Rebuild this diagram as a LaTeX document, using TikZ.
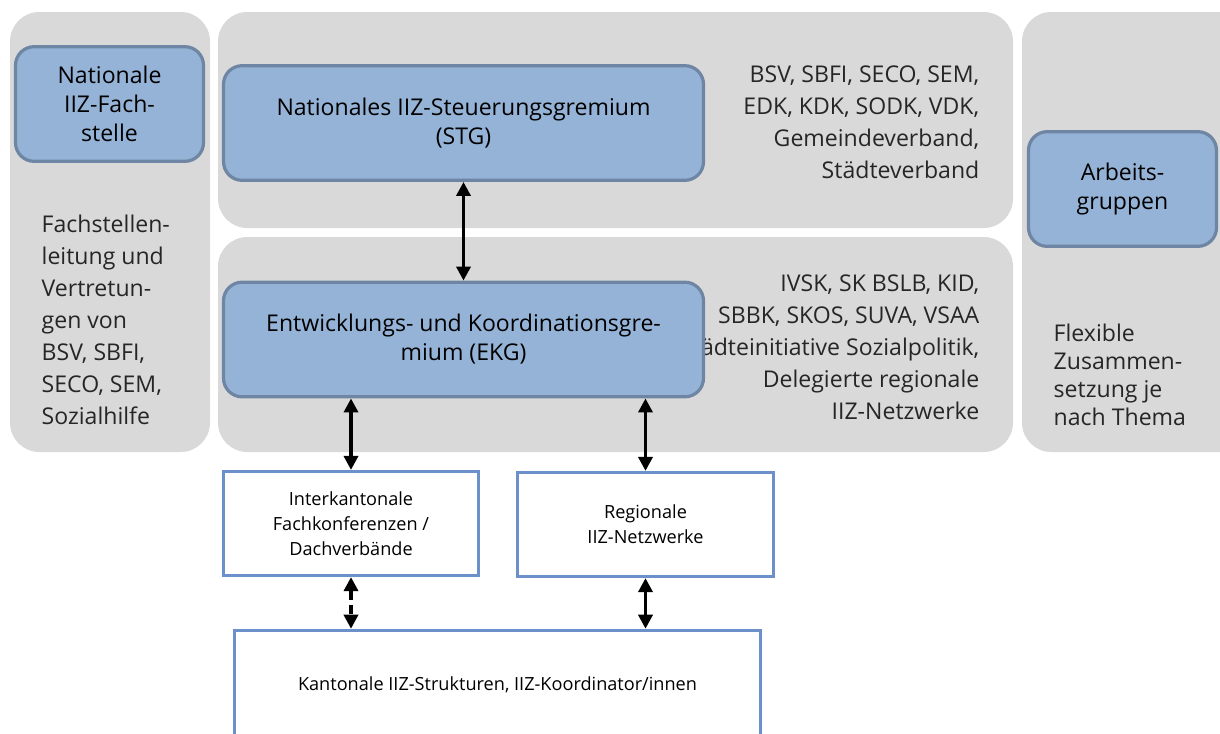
\documentclass[tikz,border=0pt]{standalone}
\usepackage{fontspec}
\setmainfont{Open Sans}
\usetikzlibrary{arrows.meta}
\definecolor{panelgray}{RGB}{217,217,217}
\definecolor{iizblue}{RGB}{149,179,215}
\definecolor{iizedge}{RGB}{110,134,163}
\definecolor{boxedge}{RGB}{108,145,202}
\definecolor{infotext}{RGB}{38,38,38}
\begin{document}
\begin{tikzpicture}
                \tikzset{x=0.75pt, y=-0.75pt}
                \tikzstyle{panel}=[fill=panelgray, draw=none, rounded corners=22pt]
                \tikzstyle{gremium}=[rectangle, draw=iizedge, fill=iizblue, line width=2.4pt, rounded corners=14pt,
                        align=center, font=\fontsize{17.3}{21.75}\selectfont]
                \tikzstyle{ebene}=[rectangle, draw=boxedge, fill=white, line width=2.4pt,
                        align=center, font=\fontsize{13.6}{18.75}\selectfont]
                \tikzstyle{info}=[text=infotext, font=\fontsize{17.3}{24}\selectfont]
                \tikzstyle{link}=[line width=2.6pt, {Triangle[length=10.5pt,width=10.5pt]}-{Triangle[length=10.5pt,width=10.5pt]}]

                \useasboundingbox (0,0) rectangle (1220,733);
                \clip (0,0) rectangle (1220,733);

                \draw[panel] (10,12)   rectangle (210,452);
                \draw[panel] (218,12)  rectangle (1013,228);
                \draw[panel] (218,237) rectangle (1013,452);
                \draw[panel] (1022,12) rectangle (1250,452);

                \draw (37,320)      node[info, anchor=west, align=left]    (infoFS)  {Fachstellen-\\leitung und\\Vertretun-\\gen von\\BSV, SBFI,\\SECO, SEM,\\Sozialhilfe};
                \draw (984,122.5)   node[info, anchor=east, align=right]   (infoSTG) {BSV, SBFI, SECO, SEM,\\EDK, KDK, SODK, VDK,\\Gemeindeverband,\\Städteverband};
                \draw (984,347.5)   node[info, anchor=east, align=right]   (infoEKG) {IVSK, SK BSLB, KID,\\SBBK, SKOS, SUVA, VSAA\\Städteinitiative Sozialpolitik,\\Delegierte regionale\\IIZ-Netzwerke};
                \draw (1049,374.5)  node[info, anchor=west, align=left, font=\fontsize{17.3}{21}\selectfont] (infoAG) {Flexible\\Zusammen-\\setzung je\\nach Thema};

                \draw (109.5,104)   node[gremium, minimum width=141pt, minimum height=86pt] (fs)  {Nationale\\IIZ-Fach-\\stelle};
                \draw (463.5,123)   node[gremium, minimum width=360pt, minimum height=86pt] (stg) {Nationales IIZ-Steuerungsgremium\\(STG)};
                \draw (463.5,339.5) node[gremium, minimum width=360pt, minimum height=86pt] (ekg) {Entwicklungs- und Koordinationsgre-\\mium (EKG)};
                \draw (1122.5,189)  node[gremium, minimum width=141pt, minimum height=86pt] (ag)  {Arbeits-\\gruppen};

                \draw (351,523.5)   node[ebene, minimum width=191pt, minimum height=78pt]   (inter) {Interkantonale\\Fachkonferenzen /\\Dachverbände};
                \draw (645.5,524.5) node[ebene, minimum width=192pt, minimum height=78pt]   (reg)   {Regionale\\IIZ-Netzwerke};
                \draw (497.5,685)   node[ebene, minimum width=394.5pt, minimum height=82pt] (kant)  {Kantonale IIZ-Strukturen, IIZ-Koordinator/innen};

                \draw [link]          (stg) -- (ekg);
                \draw [link]          (inter.north |- ekg.south) -- (inter.north);
                \draw [link]          (reg.north |- ekg.south) -- (reg.north);
                \draw [link, dash pattern=on 7pt off 4pt] (inter.south) -- (inter.south |- kant.north);
                \draw [link]          (reg.south) -- (reg.south |- kant.north);
            \end{tikzpicture}
\end{document}
